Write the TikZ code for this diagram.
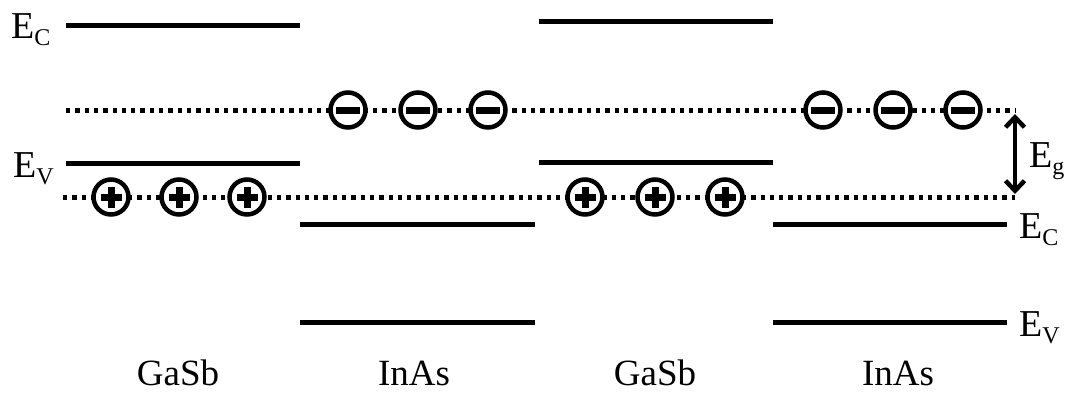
\documentclass[tikz,border=0pt]{standalone}
\usepackage{fontspec}
\setmainfont{Liberation Serif}
\usetikzlibrary{arrows.meta}
\newcommand\lvlsub[1]{\raisebox{-7pt}{\fontsize{24}{24}\selectfont #1}}
\tikzset{
  band/.style={line width=5pt},
  fermi/.style={line width=5pt, dash pattern=on 4.3pt off 5pt},
  carrier/.style={circle, draw, fill=white, line width=4.5pt, minimum size=35pt, inner sep=0pt},
  electron/.style={carrier, path picture={\fill[black] ([shift={(-12pt,-3.5pt)}]path picture bounding box.center) rectangle ([shift={(12pt,3.5pt)}]path picture bounding box.center);}},
  hole/.style={carrier, path picture={
    \fill[black] ([shift={(-10.5pt,-3.5pt)}]path picture bounding box.center) rectangle ([shift={(10.5pt,3.5pt)}]path picture bounding box.center);
    \fill[black] ([shift={(-3.5pt,-10.5pt)}]path picture bounding box.center) rectangle ([shift={(3.5pt,10.5pt)}]path picture bounding box.center);}},
  lbl/.style={inner sep=0pt, anchor=base west, font=\fontsize{38}{42}\selectfont},
  mat/.style={inner sep=0pt, anchor=base, font=\fontsize{37}{42}\selectfont},
}
\begin{document}
\begin{tikzpicture}[x=1pt, y=-1pt]
\useasboundingbox (0,0) rectangle (1073,392);
% band edges
\coordinate (g1cL) at (66,25);  \coordinate (g1cR) at (300,25);
\coordinate (g1vL) at (66,163); \coordinate (g1vR) at (300,163);
\coordinate (i1cL) at (300,224); \coordinate (i1cR) at (535,224);
\coordinate (i1vL) at (300,322); \coordinate (i1vR) at (535,322);
\coordinate (g2cL) at (539,21);  \coordinate (g2cR) at (773,21);
\coordinate (g2vL) at (539,162); \coordinate (g2vR) at (773,162);
\coordinate (i2cL) at (773,224); \coordinate (i2cR) at (1007,224);
\coordinate (i2vL) at (773,322); \coordinate (i2vR) at (1007,322);
\draw[band] (g1cL) -- (g1cR);
\draw[band] (g1vL) -- (g1vR);
\draw[band] (i1cL) -- (i1cR);
\draw[band] (i1vL) -- (i1vR);
\draw[band] (g2cL) -- (g2cR);
\draw[band] (g2vL) -- (g2vR);
\draw[band] (i2cL) -- (i2cR);
\draw[band] (i2vL) -- (i2vR);
% minibands (dotted)
\coordinate (eL) at (66,110);  \coordinate (eR) at (1015,110);
\coordinate (hL) at (63,197);  \coordinate (hR) at (1015,197);
\draw[fermi] (eL) -- (eR);
\draw[fermi] (hL) -- (hR);
% carriers
\node[electron] (e1) at (348,110) {};
\node[electron] (e2) at (418,110) {};
\node[electron] (e3) at (488,110) {};
\node[electron] (e4) at (823,110) {};
\node[electron] (e5) at (893,110) {};
\node[electron] (e6) at (963,110) {};
\node[hole] (h1) at (111,197) {};
\node[hole] (h2) at (179,197) {};
\node[hole] (h3) at (247,197) {};
\node[hole] (h4) at (585,197) {};
\node[hole] (h5) at (655,197) {};
\node[hole] (h6) at (725,197) {};
% gap arrow
\coordinate (gt) at (1015,114);
\coordinate (gb) at (1015,194);
\draw[line width=4.5pt, {Straight Barb[length=10pt,width=19pt]}-{Straight Barb[length=10pt,width=19pt]}] (gt) -- (gb);
% labels
\node[lbl] (lec) at (11,38) {E\lvlsub{C}};
\node[lbl] (lev) at (13,177) {E\lvlsub{V}};
\node[lbl] (leg) at (1029,167) {E\lvlsub{g}};
\node[lbl] (rec) at (1019,238) {E\lvlsub{C}};
\node[lbl] (rev) at (1019,336) {E\lvlsub{V}};
\node[mat] (m1) at (178,385) {GaSb};
\node[mat] (m2) at (414,385) {InAs};
\node[mat] (m3) at (655,385) {GaSb};
\node[mat] (m4) at (898,385) {InAs};
\end{tikzpicture}
\end{document}
